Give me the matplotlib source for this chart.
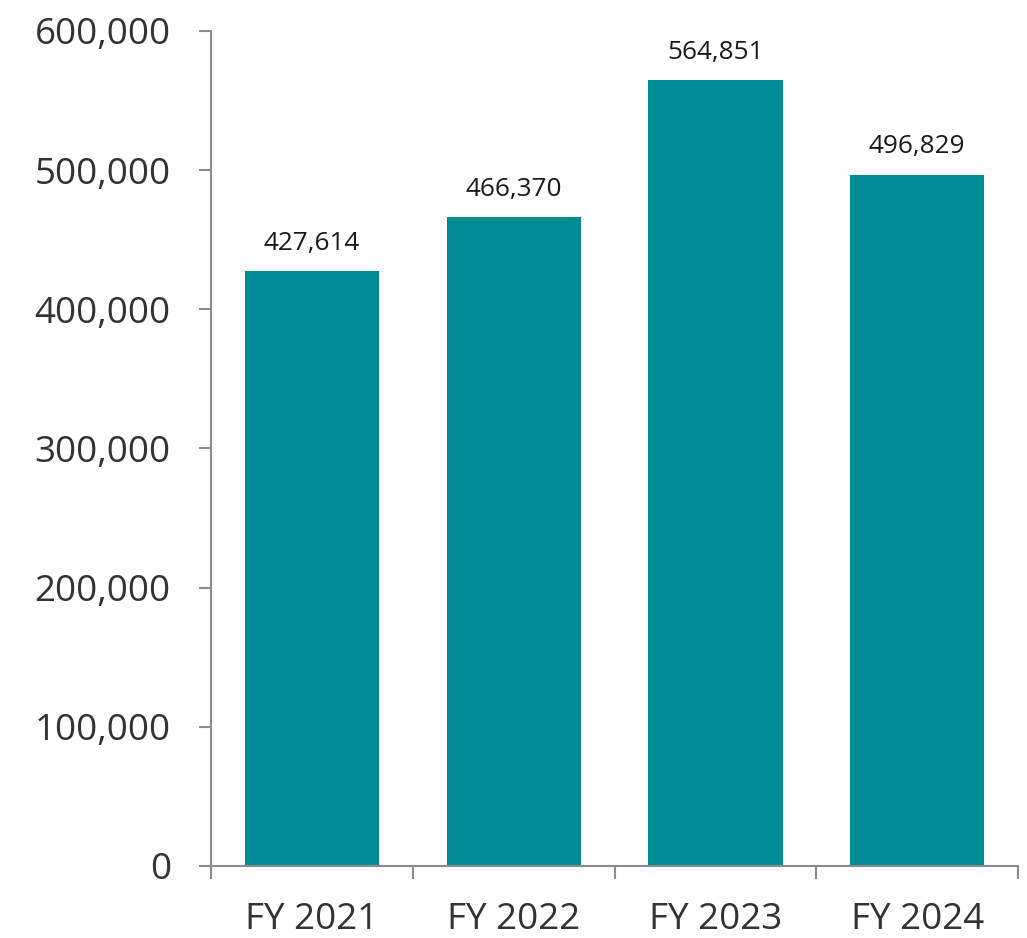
import matplotlib.pyplot as plt
from matplotlib.ticker import FuncFormatter, FixedLocator

plt.rcParams['font.family'] = ['Open Sans', 'DejaVu Sans']

categories = ["FY 2021", "FY 2022", "FY 2023", "FY 2024"]
values = [427614, 466370, 564851, 496829]
y_ticks = [0, 100000, 200000, 300000, 400000, 500000, 600000]

BAR_COLOR = "#008C95"
AXIS_COLOR = "#8C8C8C"

fig = plt.figure(figsize=(10.27, 9.38), dpi=100)
ax = fig.add_axes([0.2055, 0.0768, 0.7858, 0.8902])

x = list(range(len(categories)))
bars = ax.bar(x, values, width=0.665, color=BAR_COLOR)
ax.bar_label(bars, labels=[f"{v:,}" for v in values], padding=11,
             fontsize=18.8, color="#1a1a1a")

ax.set_xlim(-0.5, len(categories) - 0.5)
ax.set_ylim(0, 600000)
ax.set_yticks(y_ticks)
ax.yaxis.set_major_formatter(FuncFormatter(lambda v, _: f"{int(v):,}"))
ax.set_xticks(x)
ax.set_xticklabels(categories)
ax.xaxis.set_minor_locator(FixedLocator([i - 0.5 for i in range(len(categories) + 1)]))

for s in ["top", "right"]:
    ax.spines[s].set_visible(False)
for s in ["left", "bottom"]:
    ax.spines[s].set_color(AXIS_COLOR)
    ax.spines[s].set_linewidth(1.5)

ax.tick_params(axis="y", length=9, width=1.5, color=AXIS_COLOR,
               labelsize=26.5, labelcolor="#333333", pad=20)
ax.tick_params(axis="x", which="major", length=0, labelsize=26.5,
               labelcolor="#333333", pad=26)
ax.tick_params(axis="x", which="minor", length=9, width=1.5, color=AXIS_COLOR)

fig.savefig("out.png", dpi=100)
